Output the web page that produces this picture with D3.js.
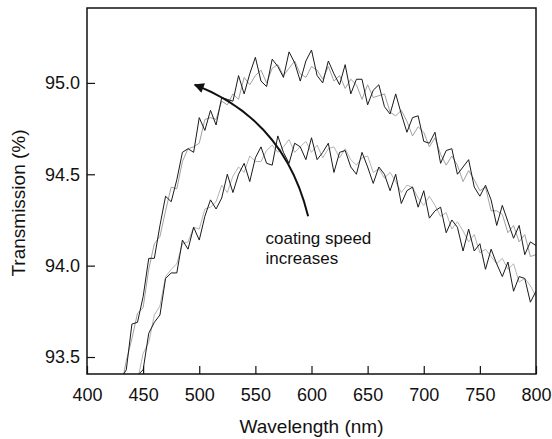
<!DOCTYPE html>
<html>
<head>
<meta charset="utf-8">
<script src="https://cdn.jsdelivr.net/npm/d3@7"></script>
<style>
  body { margin: 0; background: #fff; }
  text { font-family: Arial, "Liberation Sans", sans-serif; fill: #111; }
</style>
</head>
<body>
<div id="chart"></div>
<script>
// transmission curves, sampled every 5 nm
var step = 5

// upper pair
var topDarkStart = 430
var topDark = [93.38, 93.43, 93.68, 93.69, 93.83, 94.04, 94.04, 94.22, 94.38, 94.35,
  94.47, 94.62, 94.64, 94.62, 94.81, 94.74, 94.85, 94.77, 94.92, 94.91,
  94.90, 95.04, 94.94, 95.05, 95.14, 95.01, 94.98, 95.13, 95.09, 95.03,
  95.17, 95.11, 95.01, 95.12, 95.18, 95.04, 95.00, 95.12, 95.05, 94.99,
  95.10, 94.94, 95.02, 95.02, 94.88, 94.96, 94.99, 94.87, 94.83, 94.94,
  94.83, 94.73, 94.81, 94.82, 94.68, 94.67, 94.73, 94.56, 94.63, 94.64,
  94.50, 94.54, 94.58, 94.43, 94.38, 94.44, 94.36, 94.22, 94.33, 94.24,
  94.15, 94.22, 94.06, 94.13, 94.11]

var topGreyStart = 430
var topGrey = [93.32, 93.48, 93.60, 93.74, 93.77, 93.98, 94.12, 94.16, 94.30, 94.43,
  94.42, 94.57, 94.64, 94.65, 94.67, 94.80, 94.81, 94.80, 94.90, 94.88,
  94.94, 94.91, 95.03, 94.99, 95.04, 95.07, 95.00, 95.08, 95.10, 95.04,
  95.08, 95.12, 95.05, 95.03, 95.09, 95.07, 95.02, 95.09, 95.01, 95.04,
  94.97, 95.02, 94.99, 94.91, 94.99, 94.92, 94.93, 94.94, 94.84, 94.82,
  94.85, 94.79, 94.71, 94.76, 94.73, 94.65, 94.70, 94.61, 94.55, 94.60,
  94.55, 94.46, 94.52, 94.47, 94.41, 94.43, 94.30, 94.30, 94.28, 94.18,
  94.22, 94.13, 94.17, 94.05, 94.06]

// lower pair
var lowDarkStart = 445
var lowDark = [93.40, 93.43, 93.63, 93.69, 93.73, 93.93, 93.96, 93.96, 94.14, 94.09,
  94.21, 94.14, 94.27, 94.36, 94.31, 94.37, 94.50, 94.40, 94.50, 94.56,
  94.46, 94.59, 94.65, 94.56, 94.55, 94.71, 94.62, 94.56, 94.67, 94.65,
  94.58, 94.70, 94.58, 94.62, 94.67, 94.51, 94.62, 94.63, 94.54, 94.50,
  94.62, 94.54, 94.45, 94.54, 94.50, 94.41, 94.50, 94.34, 94.41, 94.43,
  94.32, 94.41, 94.26, 94.30, 94.32, 94.18, 94.25, 94.21, 94.08, 94.20,
  94.08, 94.12, 93.98, 94.09, 94.01, 93.94, 94.02, 93.86, 93.94, 93.93,
  93.80, 93.86]

var lowGreyStart = 440
var lowGrey = [93.30,
  93.37, 93.52, 93.58, 93.73, 93.78, 93.94, 93.98, 94.01, 94.12, 94.13,
  94.21, 94.20, 94.31, 94.32, 94.35, 94.44, 94.40, 94.49, 94.54, 94.51,
  94.60, 94.57, 94.57, 94.63, 94.66, 94.62, 94.65, 94.69, 94.62, 94.65,
  94.68, 94.62, 94.66, 94.59, 94.64, 94.65, 94.59, 94.64, 94.58, 94.55,
  94.59, 94.60, 94.51, 94.53, 94.48, 94.51, 94.46, 94.40, 94.44, 94.43,
  94.37, 94.33, 94.38, 94.33, 94.27, 94.29, 94.20, 94.24, 94.19, 94.13,
  94.17, 94.07, 94.09, 94.05, 94.01, 94.04, 93.98, 94.01, 93.91, 93.93,
  93.89, 93.83]

var xTicks = [400, 450, 500, 550, 600, 650, 700, 750, 800]
var yTicks = [93.5, 94.0, 94.5, 95.0]

// arrow: tail, bend control, head (wavelength, transmission)
var arrowTail = [597, 94.27]
var arrowBend = [576, 94.80]
var arrowHead = [496, 94.99]
var noteLines = ["coating speed", "increases"]

var width = 552
var height = 439
var margin = { left: 87, right: 16, top: 8, bottom: 65 }

var svg = d3.select('#chart').append('svg')
  .attr('width', width).attr('height', height)

var x = d3.scaleLinear().domain([400, 800]).range([margin.left, width - margin.right])
var y = d3.scaleLinear().domain([93.407, 95.41]).range([height - margin.bottom, margin.top])

svg.append('clipPath').attr('id', 'plotclip')
  .append('rect')
  .attr('x', x(400)).attr('y', y(95.41))
  .attr('width', x(800) - x(400)).attr('height', y(93.407) - y(95.41))

var line = d3.line()
  .x(function(d) { return x(d[0]) })
  .y(function(d) { return y(d[1]) })

function toPoints(start, vals) {
  return vals.map(function(v, i) { return [start + i * step, v] })
}

var series = [
  { pts: toPoints(topGreyStart, topGrey), color: '#a0a0a0' },
  { pts: toPoints(lowGreyStart, lowGrey), color: '#b4b4b4' },
  { pts: toPoints(topDarkStart, topDark), color: '#1a1a1a' },
  { pts: toPoints(lowDarkStart, lowDark), color: '#1a1a1a' }
]

svg.append('g').attr('clip-path', 'url(#plotclip)')
  .selectAll('path')
  .data(series)
  .enter().append('path')
  .attr('d', function(s) { return line(s.pts) })
  .attr('fill', 'none')
  .attr('stroke', function(s) { return s.color })
  .attr('stroke-width', 1)

// axes with inward ticks
var xAxis = d3.axisBottom(x).tickValues(xTicks).tickSize(-8).tickPadding(14)
  .tickFormat(d3.format('d'))
var xMinor = d3.axisBottom(x).tickValues(d3.range(400, 801, 10)).tickSize(-4).tickFormat('')

var gx = svg.append('g').attr('transform', 'translate(0,' + y(93.407) + ')')
gx.call(xMinor)
gx.call(xAxis)

var yAxis = d3.axisLeft(y).tickValues(yTicks).tickSize(-8).tickPadding(7)
  .tickFormat(d3.format('.1f'))
var yMinor = d3.axisLeft(y).tickValues(d3.range(93.5, 95.41, 0.1)).tickSize(-5).tickFormat('')

var gy = svg.append('g').attr('transform', 'translate(' + x(400) + ',0)')
gy.call(yMinor)
gy.call(yAxis)

svg.selectAll('.domain').remove()
svg.selectAll('.tick line').attr('stroke', '#111').attr('stroke-width', 1.2)
svg.selectAll('.tick text')
  .style('font-size', '18px')
  .style('font-family', 'Arial, "Liberation Sans", sans-serif')
  .attr('fill', '#111')

// frame
svg.append('rect')
  .attr('x', x(400)).attr('y', y(95.41))
  .attr('width', x(800) - x(400)).attr('height', y(93.407) - y(95.41))
  .attr('fill', 'none').attr('stroke', '#111').attr('stroke-width', 1.5)

// axis titles
svg.append('text')
  .attr('x', (x(400) + x(800)) / 2)
  .attr('y', 433)
  .attr('text-anchor', 'middle')
  .style('font-size', '19px')
  .text('Wavelength (nm)')

svg.append('text')
  .attr('transform', 'translate(25,' + 203 + ') rotate(-90)')
  .attr('text-anchor', 'middle')
  .style('font-size', '19px')
  .text('Transmission (%)')

// arrow annotation
svg.append('defs').append('marker')
  .attr('id', 'head')
  .attr('viewBox', '0 0 10 10')
  .attr('refX', 9).attr('refY', 5)
  .attr('markerWidth', 6).attr('markerHeight', 5)
  .attr('markerUnits', 'strokeWidth')
  .attr('orient', 'auto')
  .append('path')
  .attr('d', 'M0,0 L10,5 L0,10 Z')
  .attr('fill', '#111')

var arrowPath = d3.path()
arrowPath.moveTo(x(arrowTail[0]), y(arrowTail[1]))
arrowPath.quadraticCurveTo(x(arrowBend[0]), y(arrowBend[1]), x(arrowHead[0]), y(arrowHead[1]))

svg.append('path')
  .attr('d', arrowPath.toString())
  .attr('fill', 'none')
  .attr('stroke', '#111')
  .attr('stroke-width', 2)
  .attr('marker-end', 'url(#head)')

svg.append('g').selectAll('text')
  .data(noteLines)
  .enter().append('text')
  .attr('x', x(559))
  .attr('y', function(d, i) { return y(94.12) + i * 20 })
  .style('font-size', '17px')
  .text(function(d) { return d })
</script>
</body>
</html>
